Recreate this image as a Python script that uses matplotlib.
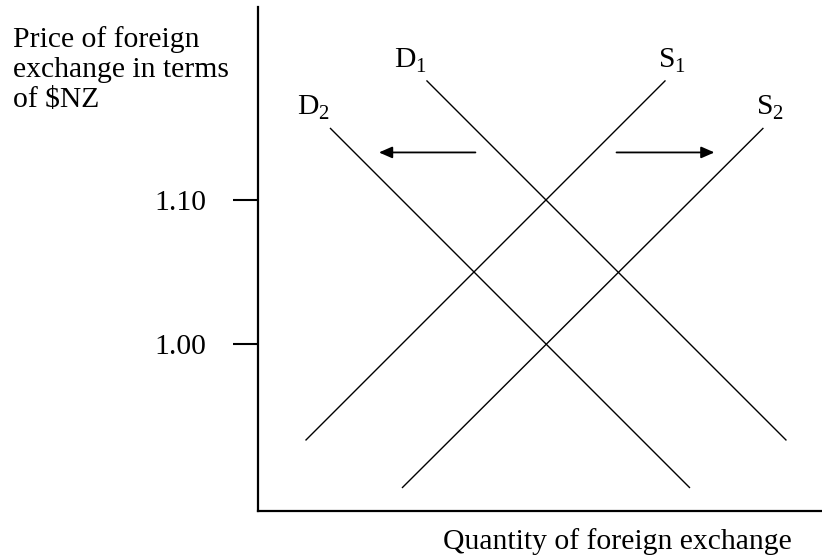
import matplotlib
matplotlib.use("Agg")
import matplotlib.pyplot as plt

plt.rcParams['font.family'] = ['Liberation Serif', 'DejaVu Serif']

# Curves: quantity (arbitrary units) and price of foreign exchange in $NZ
d1_q = [11.7, 36.7]
d1_p = [1.183, 0.933]
s1_q = [3.3, 28.3]
s1_p = [0.933, 1.183]
d2_q = [5.0, 30.0]
d2_p = [1.15, 0.90]
s2_q = [10.0, 35.1]
s2_p = [0.90, 1.15]

price_ticks = [1.00, 1.10]
price_labels = ["1.00", "1.10"]

# Shift arrows (demand moves left, supply moves right)
arrow_p = 1.133
left_arrow_q = [15.1, 8.4]
right_arrow_q = [24.9, 31.7]

fs = 21.3

fig = plt.figure(figsize=(8.22, 5.58), dpi=100)
ax = fig.add_axes([258 / 822, 47 / 558, 564 / 822, 504 / 558])

for q, p in [(d1_q, d1_p), (s1_q, s1_p), (d2_q, d2_p), (s2_q, s2_p)]:
    ax.plot(q, p, color='black', linewidth=1.0, solid_capstyle='butt')

# curve labels
lab = dict(fontsize=fs, textcoords='offset points')
ax.annotate(r"D$_\mathregular{1}$", (d1_q[0], d1_p[0]), xytext=(0, 4), ha='right', va='bottom', **lab)
ax.annotate(r"D$_\mathregular{2}$", (d2_q[0], d2_p[0]), xytext=(0, 4), ha='right', va='bottom', **lab)
ax.annotate(r"S$_\mathregular{1}$", (s1_q[1], s1_p[1]), xytext=(5, 4), ha='center', va='bottom', **lab)
ax.annotate(r"S$_\mathregular{2}$", (s2_q[1], s2_p[1]), xytext=(5, 4), ha='center', va='bottom', **lab)

arrowprops = dict(arrowstyle='-|>,head_length=0.8,head_width=0.35', color='black', linewidth=1.3,
                  shrinkA=0, shrinkB=0)
ax.annotate("", xy=(left_arrow_q[1], arrow_p), xytext=(left_arrow_q[0], arrow_p), arrowprops=arrowprops)
ax.annotate("", xy=(right_arrow_q[1], arrow_p), xytext=(right_arrow_q[0], arrow_p), arrowprops=arrowprops)

ax.set_xlim(0, 39.17)
ax.set_ylim(0.884, 1.234)
ax.spines['top'].set_visible(False)
ax.spines['right'].set_visible(False)
ax.spines['left'].set_linewidth(1.6)
ax.spines['bottom'].set_linewidth(1.6)
ax.set_xticks([])
ax.set_yticks(price_ticks)
ax.set_yticklabels(price_labels)
ax.tick_params(axis='y', direction='out', length=18, width=1.5, pad=19, labelsize=fs)

fig.text(13 / 822, 1 - 26 / 558, "Price of foreign\nexchange in terms\nof $NZ",
         ha='left', va='top', fontsize=fs, linespacing=1.2)
fig.text(617 / 822, 1 - 542 / 558, "Quantity of foreign exchange",
         ha='center', va='center', fontsize=fs)

fig.savefig("out.png", dpi=100)
